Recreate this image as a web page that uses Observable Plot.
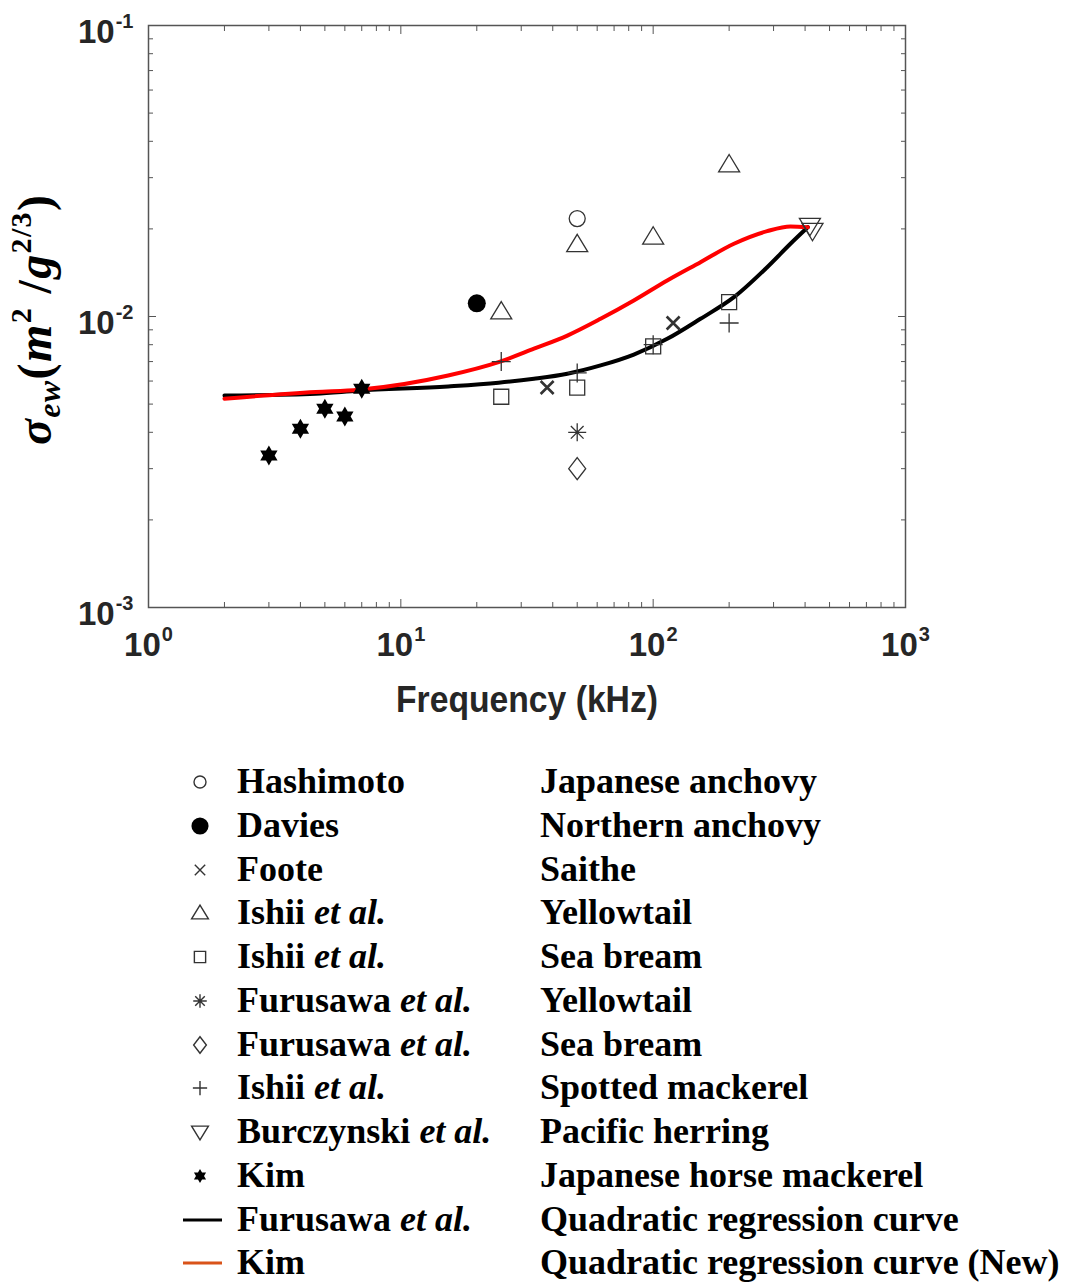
<!DOCTYPE html>
<html>
<head>
<meta charset="utf-8">
<script src="https://cdn.jsdelivr.net/npm/d3@7"></script>
<script src="https://cdn.jsdelivr.net/npm/@observablehq/plot@0.6"></script>
<style>
html,body{margin:0;padding:0;background:#fff;}
#wrap{width:1070px;}
#chart svg{display:block;}
#legend{position:relative;margin-top:20px;font-family:"Liberation Serif","Times New Roman",serif;font-weight:bold;font-size:36px;color:#000;}
.row{position:relative;height:43.75px;line-height:43.75px;}
.sym{position:absolute;left:170px;top:0;}
.name{position:absolute;left:237px;top:0;white-space:nowrap;}
.spec{position:absolute;left:540px;top:0;white-space:nowrap;}
</style>
</head>
<body>
<div id="wrap"><div id="chart"></div><div id="legend"></div></div>
<script>
// ---------- data ----------
const hashimotoF = [50];            const hashimotoS = [0.0217];
const daviesF = [20];               const daviesS = [0.0111];
const footeF = [38, 120];           const footeS = [0.0057, 0.0095];
const ishiiYtF = [25, 50, 100, 200]; const ishiiYtS = [0.0104, 0.0177, 0.0188, 0.0333];
const ishiiSbF = [25, 50, 100, 200]; const ishiiSbS = [0.0053, 0.0057, 0.0079, 0.0112];
const furuYtF = [50];               const furuYtS = [0.0040];
const furuSbF = [50];               const furuSbS = [0.0030];
const ishiiSmF = [25, 50, 100, 200]; const ishiiSmS = [0.0070, 0.0064, 0.0080, 0.0095];
const burczF = [418, 428];          const burczS = [0.0205, 0.0197];
const kimF = [3, 4, 5, 6, 7];       const kimS = [0.00333, 0.00411, 0.00482, 0.00453, 0.00565];

const curveF         = [2, 4.6, 6.8, 15.4, 24.4, 33.7, 45.7, 61.9, 83.8, 113.7, 154, 209, 283, 350, 410];
const furusawaCurveS = [0.00535, 0.00543, 0.00556, 0.00575, 0.00592, 0.00611, 0.00636, 0.00679, 0.00740, 0.00838, 0.00982, 0.01165, 0.01477, 0.01778, 0.02027];
const kimCurveS      = [0.00522, 0.00550, 0.00560, 0.00627, 0.00697, 0.00775, 0.00860, 0.00982, 0.01135, 0.01330, 0.01537, 0.01778, 0.01964, 0.02038, 0.02027];

const majorX = [1, 10, 100, 1000];
const minorX = [2,3,4,5,6,7,8,9,20,30,40,50,60,70,80,90,200,300,400,500,600,700,800,900];
const majorY = [0.001, 0.01, 0.1];
const minorY = [0.002,0.003,0.004,0.005,0.006,0.007,0.008,0.009,0.02,0.03,0.04,0.05,0.06,0.07,0.08,0.09];

const legendNames = ["Hashimoto","Davies","Foote","Ishii <i>et al.</i>","Ishii <i>et al.</i>","Furusawa <i>et al.</i>","Furusawa <i>et al.</i>","Ishii <i>et al.</i>","Burczynski <i>et al.</i>","Kim","Furusawa <i>et al.</i>","Kim"];
const legendSpecies = ["Japanese anchovy","Northern anchovy","Saithe","Yellowtail","Sea bream","Yellowtail","Sea bream","Spotted mackerel","Pacific herring","Japanese horse mackerel","Quadratic regression curve","Quadratic regression curve (New)"];
const legendKeys = ["circle","dot","times","tri","square","asterisk","diamond","plus","tridown","hexagram","lineBlack","lineOrange"];

// ---------- symbols ----------
const rOf = s => Math.sqrt(s / Math.PI);
const SYM = {
  circle: {draw(c, s){ const r = rOf(s)*0.8; c.moveTo(r,0); c.arc(0,0,r,0,2*Math.PI); c.closePath(); }},
  dot: {draw(c, s){ const r = rOf(s)*0.9; c.moveTo(r,0); c.arc(0,0,r,0,2*Math.PI); c.closePath(); }},
  times: {draw(c, s){ const r = rOf(s)*0.65; c.moveTo(-r,-r); c.lineTo(r,r); c.moveTo(r,-r); c.lineTo(-r,r); }},
  plus: {draw(c, s){ const r = rOf(s)*0.95; c.moveTo(-r,0); c.lineTo(r,0); c.moveTo(0,-r); c.lineTo(0,r); }},
  asterisk: {draw(c, s){ const r = rOf(s)*0.9, d = r*0.707; c.moveTo(-r,0); c.lineTo(r,0); c.moveTo(0,-r); c.lineTo(0,r); c.moveTo(-d,-d); c.lineTo(d,d); c.moveTo(d,-d); c.lineTo(-d,d); }},
  tri: {draw(c, s){ const r = rOf(s)*1.05; c.moveTo(0,-0.95*r); c.lineTo(r,0.7*r); c.lineTo(-r,0.7*r); c.closePath(); }},
  tridown: {draw(c, s){ const r = rOf(s)*1.05; c.moveTo(0,0.95*r); c.lineTo(r,-0.7*r); c.lineTo(-r,-0.7*r); c.closePath(); }},
  square: {draw(c, s){ const h = rOf(s)*0.75; c.moveTo(-h,-h); c.lineTo(h,-h); c.lineTo(h,h); c.lineTo(-h,h); c.closePath(); }},
  diamond: {draw(c, s){ const r = rOf(s); c.moveTo(0,-1.1*r); c.lineTo(0.85*r,0); c.lineTo(0,1.1*r); c.lineTo(-0.85*r,0); c.closePath(); }},
  hexagram: {draw(c, s){ const R = rOf(s), ri = R/Math.sqrt(3);
    for (let k = 0; k < 12; k++) { const a = -Math.PI/2 + k*Math.PI/6, rr = k%2 ? ri : R;
      const px = rr*Math.cos(a), py = rr*Math.sin(a); if (k===0) c.moveTo(px,py); else c.lineTo(px,py); }
    c.closePath(); }}
};

const rows = (F, S) => F.map((f, i) => ({f, s: S[i]}));
const ink = "#333";
const openDot = (F, S, sym, r = 10, sw = 1.3) => Plot.dot(rows(F, S), {x: "f", y: "s", symbol: SYM[sym], r, fill: "none", stroke: ink, strokeWidth: sw});
const fillDot = (F, S, sym, r = 10) => Plot.dot(rows(F, S), {x: "f", y: "s", symbol: SYM[sym], r, fill: "#000", stroke: "none"});

const sansFam = '"Liberation Sans Narrow","Liberation Sans",Arial,sans-serif';
const tickFont = {fontFamily: sansFam, fontWeight: "bold", fontSize: 33, fill: "#262626"};
const axisCol = "#555";
const supFmt = d => "10^" + Math.round(Math.log10(d));
const noLab = {label: null, tickFormat: () => "", stroke: axisCol};

const chart = Plot.plot({
  width: 1070, height: 740,
  marginLeft: 148, marginRight: 165, marginTop: 25, marginBottom: 133,
  style: {background: "#fff", overflow: "visible"},
  x: {type: "log", domain: [1, 1000]},
  y: {type: "log", domain: [0.001, 0.1]},
  marks: [
    Plot.line(rows(curveF, furusawaCurveS), {x: "f", y: "s", stroke: "#000", strokeWidth: 4, curve: "monotone-x"}),
    Plot.line(rows(curveF, kimCurveS), {x: "f", y: "s", stroke: "#f00", strokeWidth: 4, curve: "monotone-x"}),
    openDot(hashimotoF, hashimotoS, "circle"),
    fillDot(daviesF, daviesS, "dot"),
    openDot(footeF, footeS, "times", 10, 2.6),
    openDot(ishiiYtF, ishiiYtS, "tri"),
    openDot(ishiiSbF, ishiiSbS, "square"),
    openDot(furuYtF, furuYtS, "asterisk"),
    openDot(furuSbF, furuSbS, "diamond"),
    openDot(ishiiSmF, ishiiSmS, "plus"),
    openDot(burczF, burczS, "tridown"),
    fillDot(kimF, kimS, "hexagram"),
    Plot.frame({stroke: axisCol, strokeWidth: 1.5}),
    // inward ticks on all four sides
    Plot.axisX(majorX, {anchor: "bottom", tickSize: -8, ...noLab}),
    Plot.axisX(minorX, {anchor: "bottom", tickSize: -5, ...noLab}),
    Plot.axisX(majorX, {anchor: "top", tickSize: -8, ...noLab}),
    Plot.axisX(minorX, {anchor: "top", tickSize: -5, ...noLab}),
    Plot.axisY(majorY, {anchor: "left", tickSize: -8, ...noLab}),
    Plot.axisY(minorY, {anchor: "left", tickSize: -5, ...noLab}),
    Plot.axisY(majorY, {anchor: "right", tickSize: -8, ...noLab}),
    Plot.axisY(minorY, {anchor: "right", tickSize: -5, ...noLab}),
    // labels
    Plot.axisX(majorX, {anchor: "bottom", tickSize: 0, tickPadding: 25, tickFormat: supFmt, label: null, ...tickFont}),
    Plot.axisY(majorY, {anchor: "left", tickSize: 0, tickPadding: 15, dy: 7, tickFormat: supFmt, label: null, ...tickFont}),
    Plot.text(["Frequency (kHz)"], {frameAnchor: "bottom", text: d => d, dy: 104, fontSize: 36, fontWeight: "bold",
      fontFamily: sansFam, fill: "#262626"})
  ]
});

const ns = "http://www.w3.org/2000/svg";
// superscript exponents in tick labels
chart.querySelectorAll('g[aria-label$="tick label"] text').forEach(t => {
  const s = t.textContent;
  if (!s.includes("^")) return;
  const [base, exp] = s.split("^");
  t.textContent = "";
  const a = document.createElementNS(ns, "tspan"); a.textContent = base; t.appendChild(a);
  const b = document.createElementNS(ns, "tspan"); b.textContent = exp;
  b.setAttribute("font-size", "20"); b.setAttribute("dy", "-15"); b.setAttribute("dx", "1"); t.appendChild(b);
});
// condense the x-axis title like the reference's narrow face
chart.querySelectorAll('text').forEach(t => {
  if (t.textContent === "Frequency (kHz)") { t.setAttribute("textLength", 262); t.setAttribute("lengthAdjust", "spacingAndGlyphs"); }
});

// y-axis title
const yl = d3.select(chart).append("text")
  .attr("transform", "translate(51,320) rotate(-90)")
  .attr("text-anchor", "middle")
  .attr("font-family", '"Liberation Serif","DejaVu Serif",serif')
  .attr("font-style", "italic").attr("font-weight", "bold")
  .attr("font-size", 48).attr("fill", "#000")
  .attr("textLength", 250).attr("lengthAdjust", "spacing");
yl.append("tspan").text("σ");
yl.append("tspan").attr("font-size", 32).attr("dy", 9).text("ew");
yl.append("tspan").attr("dy", -9).attr("font-style", "normal").text("(");
yl.append("tspan").text("m");
yl.append("tspan").attr("font-size", 30).attr("dy", -20).attr("font-style", "normal").text("2");
yl.append("tspan").attr("dy", 20).attr("font-style", "normal").text(" /");
yl.append("tspan").text("g");
yl.append("tspan").attr("font-size", 30).attr("dy", -20).attr("font-style", "normal").text("2/3");
yl.append("tspan").attr("dy", 20).attr("font-style", "normal").text(")");

document.getElementById("chart").appendChild(chart);

// ---------- legend ----------
const legend = d3.select("#legend");
legendKeys.forEach((k, i) => {
  const row = legend.append("div").attr("class", "row");
  const svg = row.append("svg").attr("class", "sym").attr("width", 60).attr("height", 44);
  if (k === "lineBlack" || k === "lineOrange") {
    svg.append("line").attr("x1", 13).attr("x2", 52).attr("y1", 22).attr("y2", 22)
      .attr("stroke", k === "lineBlack" ? "#000" : "#D95319").attr("stroke-width", 3);
  } else {
    const p = d3.path();
    const sz = {circle: 7.5, dot: 9.5, times: 8, tri: 8, square: 7.5, asterisk: 7.5, diamond: 7.5, plus: 7.5, tridown: 8, hexagram: 7}[k];
    SYM[k].draw(p, sz*sz*Math.PI);
    const filled = k === "dot" || k === "hexagram";
    svg.append("path").attr("transform", "translate(30,22)").attr("d", p.toString())
      .attr("fill", filled ? "#000" : "none").attr("stroke", filled ? "none" : "#333")
      .attr("stroke-width", 1.4);
  }
  row.append("span").attr("class", "name").html(legendNames[i]);
  row.append("span").attr("class", "spec").text(legendSpecies[i]);
});
</script>
</body>
</html>
